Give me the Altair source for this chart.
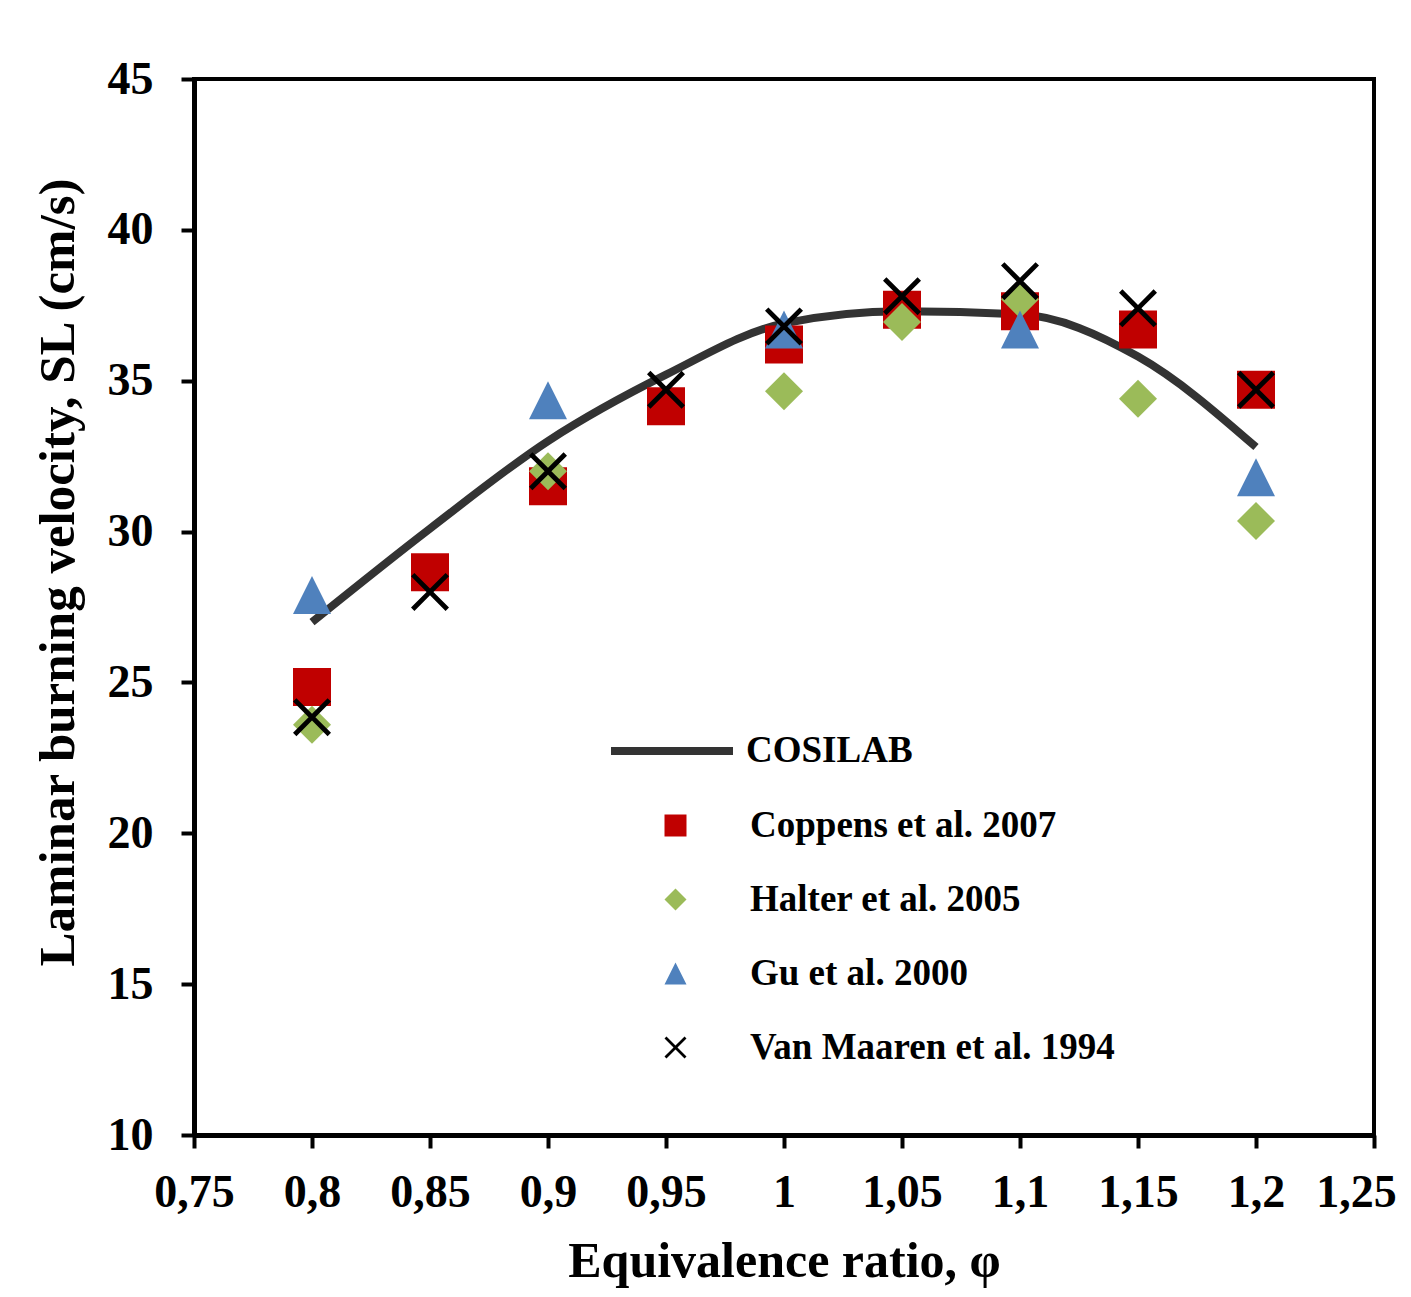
import altair as alt
import pandas as pd

# ---- data ----
phi = [0.8, 0.85, 0.9, 0.95, 1.0, 1.05, 1.1, 1.15, 1.2]
cosilab = [27.0, 30.1, 33.0, 35.2, 36.9, 37.3, 37.2, 35.8, 32.8]
coppens = [24.85, 28.65, 31.5, 34.15, 36.2, 37.35, 37.3, 36.7, 34.7]
halter_phi = [0.8, 0.9, 1.0, 1.05, 1.1, 1.15, 1.2]
halter = [23.6, 32.0, 34.65, 36.95, 37.7, 34.4, 30.35]
gu_phi = [0.8, 0.9, 1.0, 1.1, 1.2]
gu = [27.9, 34.35, 36.7, 36.7, 31.8]
vanmaaren = [23.85, 28.0, 32.0, 34.7, 36.8, 37.8, 38.3, 37.4, 34.7]

x_ticks = [0.75, 0.8, 0.85, 0.9, 0.95, 1.0, 1.05, 1.1, 1.15, 1.2, 1.25]
y_ticks = [10, 15, 20, 25, 30, 35, 40, 45]

line_name = "COSILAB"
point_names = ["Coppens et al. 2007", "Halter et al. 2005", "Gu et al. 2000", "Van Maaren et al. 1994"]
point_colors = ["#C00000", "#9BBB59", "#4F81BD", "#000000"]
tri = "M0,-1L1,1L-1,1Z"
xshape = ("M-1,-0.82L-0.82,-1L0,-0.18L0.82,-1L1,-0.82L0.18,0L1,0.82L0.82,1"
          "L0,0.18L-0.82,1L-1,0.82L-0.18,0Z")
point_shapes = ["square", "diamond", tri, xshape]

line_df = pd.DataFrame({"phi": phi, "sl": cosilab, "series": line_name})
pts_df = pd.concat([
    pd.DataFrame({"phi": phi, "sl": coppens, "series": point_names[0]}),
    pd.DataFrame({"phi": halter_phi, "sl": halter, "series": point_names[1]}),
    pd.DataFrame({"phi": gu_phi, "sl": gu, "series": point_names[2]}),
    pd.DataFrame({"phi": phi, "sl": vanmaaren, "series": point_names[3]}),
], ignore_index=True)

FONT = "Liberation Serif"

x_enc = alt.X("phi:Q",
              scale=alt.Scale(domain=[0.75, 1.25], nice=False, zero=False),
              axis=alt.Axis(values=x_ticks, format=".2~f",
                            labelExpr="replace(datum.label, '.', ',')",
                            title="Equivalence ratio, φ",
                            labelPadding=22, labelFlush=False, labelOverlap=False,
                            labelOffset=alt.condition("datum.value >= 1.25",
                                                      alt.value(-18), alt.value(0)),
                            titleBaseline="alphabetic", titleY=141, titleX=590,
                            titleAnchor="middle"))
y_enc = alt.Y("sl:Q",
              scale=alt.Scale(domain=[10, 45], nice=False, zero=False),
              axis=alt.Axis(values=y_ticks,
                            title="Laminar burning velocity, SL (cm/s)",
                            labelPadding=28, labelFlush=False, labelOverlap=False,
                            titleAngle=-90, titleBaseline="alphabetic",
                            titleFontSize=51,
                            titleAlign="center", titleX=-121, titleY=493))

legend_common = dict(orient="none", title=None, labelFont=FONT, labelFontSize=37,
                     labelFontWeight="bold", labelColor="black", padding=0,
                     labelLimit=600)

line = alt.Chart(line_df).mark_line(strokeWidth=8, interpolate="monotone").encode(
    x=x_enc, y=y_enc,
    stroke=alt.Stroke("series:N",
                      scale=alt.Scale(domain=[line_name], range=["#333333"]),
                      legend=alt.Legend(legendX=413, legendY=607,
                                        symbolType="stroke", symbolSize=14884,
                                        symbolStrokeWidth=8, labelOffset=9,
                                        **legend_common)),
)

pt_legend = alt.Legend(legendX=463, legendY=728, symbolSize=484,
                       symbolStrokeWidth=0, labelOffset=56, rowPadding=36,
                       **legend_common)

points = alt.Chart(pts_df).mark_point(filled=True, size=1444, opacity=1).encode(
    x=x_enc, y=y_enc,
    color=alt.Color("series:N", sort=point_names,
                    scale=alt.Scale(domain=point_names, range=point_colors),
                    legend=pt_legend),
    shape=alt.Shape("series:N", sort=point_names,
                    scale=alt.Scale(domain=point_names, range=point_shapes),
                    legend=pt_legend),
)

chart = alt.layer(line, points).properties(
    width=1180, height=1056,
    padding={"left": 186, "top": 71, "right": 29, "bottom": 154},
    autosize=alt.AutoSizeParams(type="none"),
    background="white",
).configure_view(
    stroke="black", strokeWidth=4
).configure_axis(
    grid=False, domainColor="black", domainWidth=5, tickColor="black",
    tickWidth=4, tickSize=13, labelFont=FONT, labelFontSize=46,
    labelFontWeight="bold", labelColor="black", titleFont=FONT,
    titleFontSize=50, titleFontWeight="bold", titleColor="black",
)

chart.save("out.html", embed_options={"renderer": "svg", "actions": False})
